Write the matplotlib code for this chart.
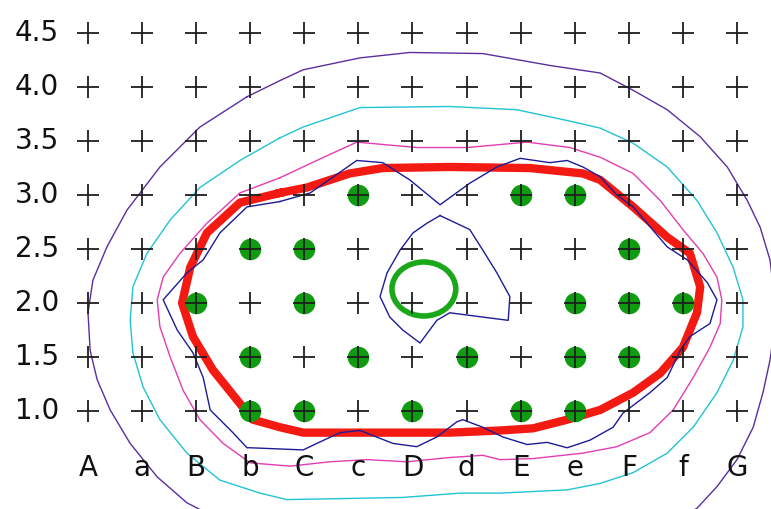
import matplotlib.pyplot as plt
from matplotlib.patches import Ellipse

# grid: columns are indexed 0..12, rows are the plotted values
col_labels = ["A", "a", "B", "b", "C", "c", "D", "d", "E", "e", "F", "f", "G"]
row_values = [1.0, 1.5, 2.0, 2.5, 3.0, 3.5, 4.0, 4.5]

# filled sites (column label, row value)
filled_sites = [
    ("c", 3.0), ("E", 3.0), ("e", 3.0),
    ("b", 2.5), ("C", 2.5), ("F", 2.5),
    ("B", 2.0), ("C", 2.0), ("e", 2.0), ("F", 2.0), ("f", 2.0),
    ("b", 1.5), ("c", 1.5), ("d", 1.5), ("e", 1.5), ("F", 1.5),
    ("b", 1.0), ("C", 1.0), ("D", 1.0), ("E", 1.0), ("e", 1.0),
]

# contour outlines (x in column units, y in row units)
purple_x = [2.94, 3.55, 3.98, 5.03, 5.95, 7.30, 8.54, 9.47, 10.08, 10.71, 11.32, 11.82,
            12.19, 12.43, 12.61, 12.70, 12.69, 12.61, 12.48, 12.30, 12.00, 11.63, 11.26,
            10.39, 9.10, 7.62, 6.14, 4.47, 3.00, 1.83, 1.28, 0.78, 0.41, 0.17, 0.04,
            0.00, 0.09, 0.35, 0.72, 1.33, 2.07, 2.94]
purple_y = [3.91, 4.06, 4.16, 4.27, 4.32, 4.31, 4.20, 4.13, 3.97, 3.79, 3.54, 3.26,
            2.95, 2.70, 2.40, 2.03, 1.75, 1.47, 1.17, 0.85, 0.55, 0.30, 0.10,
            -0.15, -0.33, -0.43, -0.44, -0.36, -0.15, 0.15, 0.39, 0.70, 1.01, 1.29, 1.56,
            1.91, 2.21, 2.52, 2.86, 3.26, 3.63, 3.91]

cyan_x = [3.55, 3.98, 5.03, 6.69, 7.93, 8.86, 9.47, 10.08, 10.71, 11.26, 11.63, 11.93,
          12.11, 12.11, 11.93, 11.63, 11.19, 10.71, 10.08, 9.47, 8.86, 7.62, 6.88, 5.82,
          3.68, 3.18, 2.44, 1.83, 1.33, 1.02, 0.83, 0.78, 0.83, 1.09, 1.52, 2.07, 2.81,
          3.55]
cyan_y = [3.53, 3.63, 3.81, 3.82, 3.79, 3.69, 3.62, 3.48, 3.26, 2.95, 2.65, 2.33,
          2.03, 1.78, 1.47, 1.17, 0.85, 0.61, 0.43, 0.33, 0.27, 0.24, 0.24, 0.20,
          0.18, 0.24, 0.36, 0.61, 0.92, 1.22, 1.54, 1.84, 2.15, 2.46, 2.77, 3.07, 3.32,
          3.53]

magenta_x = [3.55, 4.23, 4.97, 6.08, 7.01, 8.12, 8.91, 9.47, 10.08, 10.58, 11.00, 11.37,
             11.63, 11.72, 11.69, 11.50, 11.19, 10.82, 10.39, 9.78, 9.15, 8.23, 7.62,
             7.30, 6.69, 5.90, 5.16, 4.47, 3.74, 3.00, 2.50, 2.07, 1.76, 1.52, 1.33,
             1.28, 1.39, 1.70, 2.20, 2.81, 3.55]
magenta_y = [3.16, 3.32, 3.49, 3.44, 3.44, 3.49, 3.44, 3.35, 3.20, 2.95, 2.68, 2.46,
             2.24, 2.03, 1.81, 1.59, 1.31, 1.01, 0.80, 0.67, 0.61, 0.56, 0.55,
             0.59, 0.57, 0.53, 0.55, 0.53, 0.49, 0.52, 0.70, 0.92, 1.19, 1.50, 1.78,
             2.03, 2.24, 2.46, 2.74, 3.02, 3.16]

navy_x = [3.55, 4.11, 4.97, 5.45, 5.95, 6.51, 7.06, 7.56, 7.99, 8.54, 8.86, 9.15, 9.47,
          9.78, 10.08, 10.71, 11.08, 11.45, 11.63, 11.50, 11.13, 10.95, 10.71, 10.39,
          9.89, 9.71, 9.28, 8.86, 8.49, 8.12, 7.67, 7.30, 6.93, 6.82, 6.45, 6.08, 5.64,
          5.03, 4.66, 4.23, 3.98, 3.00, 2.94, 2.68, 2.26, 2.13, 1.94, 1.65, 1.39, 1.83,
          2.13, 2.44, 2.94, 3.55]
navy_y = [2.94, 3.02, 3.32, 3.30, 3.14, 2.91, 3.11, 3.26, 3.34, 3.30, 3.32, 3.26, 3.17,
          3.00, 2.89, 2.52, 2.40, 2.19, 2.03, 1.81, 1.69, 1.56, 1.31, 1.17,
          0.98, 0.85, 0.73, 0.66, 0.71, 0.69, 0.76, 0.85, 0.92, 0.90, 0.76, 0.67, 0.70,
          0.82, 0.80, 0.70, 0.64, 0.66, 0.66, 0.80, 1.01, 1.31, 1.54, 1.75, 2.03, 2.28,
          2.40, 2.65, 2.89, 2.94]

inner_x = [6.51, 7.06, 7.30, 7.56, 7.80, 7.77, 7.30, 6.69, 6.45, 6.14, 5.82, 5.58,
           5.40, 5.53, 5.77, 6.01, 6.27, 6.51]
inner_y = [2.81, 2.68, 2.49, 2.28, 2.06, 1.84, 1.87, 1.91, 1.84, 1.63, 1.75, 1.87,
           2.06, 2.28, 2.49, 2.65, 2.74, 2.81]

red_x = [3.55, 4.05, 4.84, 5.45, 6.69, 8.17, 9.15, 9.47, 10.08, 10.71, 11.13, 11.32,
         11.26, 11.00, 10.58, 10.08, 9.47, 8.86, 8.23, 7.62, 6.69, 4.84, 3.98, 3.55,
         3.05, 2.76, 2.31, 1.94, 1.74, 1.89, 2.20, 2.81, 3.55]
red_y = [3.02, 3.07, 3.20, 3.25, 3.26, 3.25, 3.20, 3.14, 2.89, 2.61, 2.46, 2.15,
         1.91, 1.59, 1.35, 1.17, 1.01, 0.92, 0.84, 0.82, 0.80, 0.80, 0.80, 0.85,
         0.92, 1.10, 1.38, 1.69, 2.00, 2.33, 2.65, 2.93, 3.02]

# small ring near the middle: centre and full width / height
ring_center = (6.21, 2.13)
ring_size = (1.18, 0.50)

fig = plt.figure(figsize=(7.71, 5.09), dpi=100)
fig.patch.set_facecolor("white")
ax = fig.add_axes([0, 0, 1, 1])
ax.set_xlim(-1.627, 12.629)
ax.set_ylim(0.093, 4.806)
ax.axis("off")

thin = 1.0
ax.plot(purple_x, purple_y, color="#5b2e9e", lw=thin, zorder=2)
ax.plot(cyan_x, cyan_y, color="#22c3d2", lw=thin, zorder=2)
ax.plot(magenta_x, magenta_y, color="#e23db2", lw=thin, zorder=2)
ax.plot(navy_x, navy_y, color="#1c1c96", lw=thin, zorder=3)
ax.plot(inner_x, inner_y, color="#1c1c96", lw=thin, zorder=3)
ax.plot(red_x, red_y, color="#f21a12", lw=6, solid_joinstyle="round", zorder=2.5)

ax.add_patch(Ellipse(ring_center, ring_size[0], ring_size[1], fill=False,
                     edgecolor="#1aa81a", lw=4, zorder=4))

col_index = {c: i for i, c in enumerate(col_labels)}
dot_x = [col_index[c] for c, _ in filled_sites]
dot_y = [r for _, r in filled_sites]
ax.plot(dot_x, dot_y, "o", ms=15.5, color="#109c10", mec="none", zorder=5)

grid_x = [i for _ in row_values for i in range(len(col_labels))]
grid_y = [r for r in row_values for _ in col_labels]
ax.plot(grid_x, grid_y, "+", ms=16, mew=1.3, color="#1e1e1e", zorder=6)

for r in row_values:
    ax.text(-0.54, r - 0.075, f"{r:.1f}", ha="right", va="baseline",
            fontsize=20, family="DejaVu Sans", color="#111111")
for i, c in enumerate(col_labels):
    ax.text(i, 0.40, c, ha="center", va="baseline",
            fontsize=20, family="DejaVu Sans", color="#111111")

fig.savefig("out.png", dpi=100)
